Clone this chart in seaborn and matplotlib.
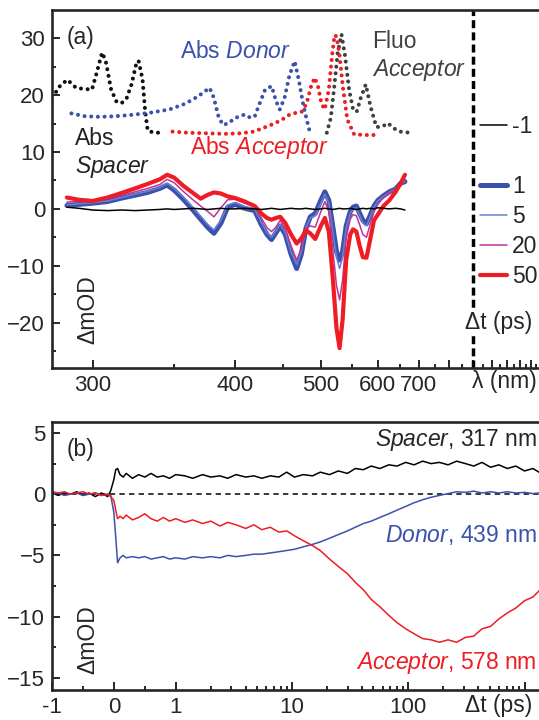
import numpy as np
import pandas as pd
import seaborn as sns
import matplotlib
matplotlib.use("Agg")
import matplotlib.pyplot as plt
from matplotlib.lines import Line2D
from matplotlib.ticker import FixedLocator, FixedFormatter, NullFormatter

sns.set_style("ticks")
plt.rcParams['font.family'] = ['Liberation Sans', 'DejaVu Sans']
plt.rcParams['mathtext.fontset'] = 'custom'
plt.rcParams['mathtext.rm'] = 'Liberation Sans'
plt.rcParams['mathtext.it'] = 'Liberation Sans:italic'

# ---- panel (a): steady state spectra (offset, arbitrary units)
spacer_wl = [279.7, 281, 284, 287.3, 291.5, 295.7, 299.6, 301.8, 305, 307, 310, 313, 316, 319, 322, 324.5, 326.2, 328.7, 330.4, 332, 335, 339, 343]
spacer_abs = [19.8, 20.1, 21.8, 22.7, 21.3, 21.1, 21.0, 23.6, 27.5, 26.0, 21.0, 18.9, 18.6, 19.5, 22.0, 25.2, 26.1, 22.8, 17.1, 13.8, 13.5, 13.4, 13.4]

donor_wl = [289.2, 296, 303.6, 312, 320.7, 333, 346.7, 358, 368, 377.3, 381, 384.5, 388.5, 393, 400, 408.9, 414, 418.9, 424, 430, 437.2, 442, 446.4, 452, 458, 464.5, 470, 476, 484.2]
donor_abs = [16.8, 16.3, 16.2, 16.3, 16.5, 16.9, 17.5, 18.5, 19.8, 21.3, 19.5, 16.5, 14.8, 15.0, 16.0, 16.6, 16.1, 16.2, 18.5, 21.0, 21.6, 19.0, 17.5, 19.5, 23.5, 26.0, 22.5, 18.0, 13.6]

acc_wl = [348.8, 360, 375, 390, 405, 418, 427.3, 440, 450, 458.3, 466, 473.5, 480, 486, 491.2, 496, 501, 505.8, 512, 517, 521, 524.3, 529, 534.2, 542, 554, 575, 600]
acc_abs = [13.6, 13.4, 13.3, 13.2, 13.3, 13.6, 14.2, 15.0, 15.8, 16.6, 16.9, 17.1, 18.5, 21.5, 23.1, 21.5, 18.5, 17.5, 21.0, 27.0, 30.6, 30.3, 27.0, 21.6, 15.7, 13.1, 13.0, 13.0]

fluo_wl = [508.9, 515, 520, 526, 532.2, 538, 545, 552, 558.6, 566, 575.6, 585, 597, 610, 621.9, 635, 650, 676]
fluo_em = [13.4, 16.0, 21.0, 27.5, 30.7, 27.0, 21.0, 17.5, 17.1, 19.5, 21.9, 18.0, 14.4, 14.5, 15.1, 14.2, 13.6, 13.4]

# ---- panel (a): transient spectra, mOD
ta_wl = [287, 293, 300, 308, 316, 324, 332, 340, 345, 350,
         357, 364, 370, 376, 381, 387, 393, 400, 409, 419,
         426, 432, 437, 442, 447, 453, 460, 467, 473, 479,
         485, 492, 500, 506, 512, 518, 524, 529, 534, 540,
         547, 552, 558, 564, 570, 577, 584, 592, 600, 612,
         625, 640, 652, 663]
ta_m1 = [0.3, 0.1, -0.2, -0.3, -0.2, -0.3, -0.2, -0.1, 0.0, -0.1,
         0.0, 0.1, 0.0, -0.1, 0.0, 0.1, 0.0, 0.0, 0.1, 0.0,
         -0.1, 0.0, 0.1, 0.0, -0.1, 0.0, 0.1, 0.0, 0.0, 0.1,
         0.0, -0.1, 0.0, 0.1, 0.0, -0.1, 0.0, 0.1, 0.0, 0.0,
         0.1, 0.0, -0.1, 0.0, 0.1, 0.0, 0.1, 0.0, 0.2, 0.1,
         0.0, 0.1, 0.0, -0.2]
ta_1 = [0.6, 0.8, 1.0, 1.3, 1.9, 2.4, 2.9, 3.6, 4.2, 3.3,
        1.6, -0.2, -1.8, -3.3, -4.3, -2.5, 0.3, 0.8, 0.1, -0.3,
        -2.8, -4.5, -5.4, -4.2, -3.0, -4.5, -8.0, -10.5, -8.0, -3.5,
        -1.4, -0.8, 1.5, 3.0, 1.5, -3.0, -7.5, -9.0, -7.5, -3.0,
        -0.5, 0.3, 0.5, -0.8, -2.0, -2.6, -1.2, 0.5, 1.5, 2.3,
        3.0, 3.5, 4.5, 4.8]
ta_5 = [0.7, 0.9, 1.1, 1.4, 2.0, 2.6, 3.1, 3.8, 4.5, 3.6,
        2.0, 0.2, -1.3, -2.8, -3.7, -2.0, 0.7, 1.1, 0.4, 0.0,
        -2.4, -4.2, -5.0, -3.9, -2.7, -4.2, -7.6, -9.8, -7.6, -3.3,
        -1.6, -1.2, 1.0, 2.6, 1.0, -3.8, -8.5, -10.5, -8.5, -3.4,
        -0.8, 0.0, 0.2, -1.2, -2.5, -3.0, -1.5, 0.3, 1.4, 2.2,
        2.9, 3.5, 4.5, 4.8]
ta_20 = [1.2, 1.3, 1.4, 1.8, 2.4, 3.0, 3.6, 4.3, 5.2, 4.6,
         3.0, 1.6, 0.5, -0.5, -1.4, 0.2, 1.6, 1.7, 1.0, 0.5,
         -1.6, -3.3, -4.0, -3.2, -2.0, -3.5, -6.5, -9.0, -7.0, -3.5,
         -3.0, -3.2, -0.5, 1.3, -0.5, -7.0, -13.5, -16.0, -12.5, -5.0,
         -1.8, -1.0, -1.2, -2.8, -4.5, -5.0, -2.8, -0.5, 0.8, 2.0,
         2.8, 3.4, 4.5, 5.2]
ta_50 = [2.0, 1.6, 1.4, 2.0, 2.8, 3.6, 4.4, 5.2, 6.0, 5.5,
         4.0, 2.8, 1.8, 2.5, 2.9, 2.7, 2.2, 1.9, 1.3, 0.5,
         -0.8, -1.6, -1.9, -1.6, -1.4, -2.5, -4.5, -6.1, -5.2, -3.8,
         -4.3, -5.3, -3.0, -1.6, -4.0, -12.0, -21.0, -24.5, -19.5, -9.0,
         -4.5, -3.6, -4.0, -6.5, -8.5, -8.6, -5.5, -2.0, -1.0, 0.5,
         1.5, 3.0, 4.5, 6.0]

# ---- panel (b): kinetics
t_ps = [-1.0, -0.9, -0.8, -0.7, -0.6, -0.5, -0.4, -0.3, -0.2, -0.1, -0.05,
        0.0, 0.03, 0.06, 0.1, 0.15, 0.2, 0.3, 0.4, 0.5,
        0.6, 0.7, 0.8, 0.9, 1.0,
        1.2, 1.4, 1.7, 2, 2.4,
        2.8, 3.3, 4, 4.7, 5.5,
        6.5, 7.7, 9, 10.5, 12.5,
        15, 17.5, 21, 25, 30,
        35, 41, 48, 57, 68,
        80, 95, 112, 133, 157,
        185, 220, 260, 310, 365,
        430, 510, 600, 710, 840,
        1000, 1180, 1330]
kin_spacer = [0.1, -0.1, 0.1, 0.0, 0.2, -0.1, 0.1, -0.2, 0.1, -0.2, 0.3,
              1.2, 2.0, 2.1, 1.6, 1.4, 1.7, 1.3, 1.6, 1.4,
              1.7, 1.4, 1.5, 1.3, 1.6,
              1.5, 1.3, 1.6, 1.4, 1.5,
              1.3, 1.6, 1.4, 1.5, 1.3,
              1.5, 1.4, 1.8, 1.4, 1.6,
              1.5, 1.8, 1.6, 1.9, 1.7,
              2.1, 2.0, 2.3, 2.1, 2.4,
              2.3, 2.6, 2.4, 2.7, 2.5,
              2.6, 2.4, 2.7, 2.5, 2.3,
              2.6, 2.2, 2.4, 2.1, 2.3,
              1.9, 2.1, 1.8]
kin_donor = [0.0, 0.1, -0.1, 0.0, 0.1, -0.1, 0.0, 0.1, -0.1, 0.0, -0.1,
             -1.5, -3.5, -5.6, -5.2, -5.0, -5.2, -5.1, -5.2, -5.1,
             -5.3, -5.2, -5.1, -5.3, -5.2,
             -5.3, -5.1, -5.2, -5.1, -5.2,
             -5.0, -5.1, -5.0, -4.9, -4.9,
             -4.8, -4.7, -4.6, -4.5, -4.3,
             -4.1, -3.9, -3.6, -3.3, -3.0,
             -2.7, -2.4, -2.2, -1.9, -1.6,
             -1.3, -1.0, -0.7, -0.45, -0.25,
             -0.1, 0.05, 0.2, 0.15, 0.25,
             0.1, 0.2, 0.1, 0.2, 0.1,
             0.15, 0.05, 0.1]
kin_acceptor = [0.2, 0.1, 0.2, 0.0, 0.1, 0.2, 0.0, 0.1, -0.1, 0.0, -0.2,
                -0.5, -1.3, -2.0, -1.8, -2.0, -1.7, -2.1, -1.9, -1.6,
                -2.0, -2.2, -1.9, -2.2, -2.0,
                -2.3, -2.1, -2.4, -2.2, -2.6,
                -2.3, -2.5, -2.8, -2.5, -2.9,
                -2.7, -3.1, -3.0, -3.4, -3.8,
                -4.2, -4.6, -5.3, -5.9, -6.5,
                -7.2, -7.8, -8.6, -9.2, -9.9,
                -10.5, -11.0, -11.4, -11.8, -11.9,
                -12.1, -11.9, -12.1, -11.7, -11.6,
                -11.0, -10.8, -10.2, -9.7, -9.3,
                -8.7, -8.4, -7.9]

BLUE = '#3b52ac'
BLUE_THIN = '#6a80d0'
MAGENTA = '#c0349a'
RED = '#ee1c24'
GREY = '#404040'
FS = 16.5


def inv_wl(w):
    w = np.asarray(w, dtype=float)
    with np.errstate(divide='ignore', invalid='ignore'):
        return -1.0 / w


A = 0.532


def linlog(t):
    t = np.asarray(t, dtype=float)
    with np.errstate(divide='ignore', invalid='ignore'):
        return np.where(t <= 1, A * t, A + np.log10(np.maximum(t, 1)))


def linlog_inv(y):
    y = np.asarray(y, dtype=float)
    with np.errstate(over='ignore', invalid='ignore'):
        return np.where(y <= A, y / A, 10 ** np.minimum(y - A, 12))


fig = plt.figure(figsize=(5.39, 7.2), dpi=100)
ax1 = fig.add_axes([52 / 539, 1 - 368 / 720, 487 / 539, 358 / 720])
ax2 = fig.add_axes([52 / 539, 1 - 690 / 720, 487 / 539, 268 / 720])

dots = dict(linestyle=(0, (0.01, 1.65)), dash_capstyle='round', lw=2.9)

# steady state
sns.lineplot(x=spacer_wl, y=spacer_abs, ax=ax1, color='#111111', estimator=None, sort=False, **dots)
sns.lineplot(x=donor_wl, y=donor_abs, ax=ax1, color=BLUE, estimator=None, sort=False, **dots)
sns.lineplot(x=fluo_wl, y=fluo_em, ax=ax1, color=GREY, estimator=None, sort=False, **dots)
sns.lineplot(x=acc_wl, y=acc_abs, ax=ax1, color=RED, estimator=None, sort=False, **dots)

# transient spectra
sns.lineplot(x=ta_wl, y=ta_1, ax=ax1, color=BLUE, lw=3.6, estimator=None, sort=False)
sns.lineplot(x=ta_wl, y=ta_5, ax=ax1, color=BLUE_THIN, lw=1.1, estimator=None, sort=False)
sns.lineplot(x=ta_wl, y=ta_20, ax=ax1, color=MAGENTA, lw=1.1, estimator=None, sort=False)
sns.lineplot(x=ta_wl, y=ta_50, ax=ax1, color=RED, lw=3.0, estimator=None, sort=False)
sns.lineplot(x=ta_wl, y=ta_m1, ax=ax1, color='black', lw=1.1, estimator=None, sort=False)

ax1.axvline(900, color='black', lw=2.5, linestyle=(0, (2.3, 1.2)))

ax1.set_xscale('function', functions=(inv_wl, inv_wl))
ax1.set_xlim(280, 1380)
ax1.set_ylim(-28, 35)
maj_a = [300, 400, 500, 600, 700, 800, 900, 1000, 1100, 1200, 1300]
ax1.xaxis.set_major_locator(FixedLocator(maj_a))
ax1.xaxis.set_major_formatter(FixedFormatter(['300', '400', '500', '600', '700'] + [''] * 6))
ax1.xaxis.set_minor_locator(FixedLocator([350, 450, 550, 650, 750, 850, 950, 1050, 1150, 1250, 1350]))
ax1.xaxis.set_minor_formatter(NullFormatter())
ax1.yaxis.set_major_locator(FixedLocator([-20, -10, 0, 10, 20, 30]))
ax1.yaxis.set_minor_locator(FixedLocator([-25, -15, -5, 5, 15, 25]))

# legend for delays
handles = [Line2D([], [], color='black', lw=1.1),
           Line2D([], [], color='none'),
           Line2D([], [], color=BLUE, lw=3.6),
           Line2D([], [], color=BLUE_THIN, lw=1.1),
           Line2D([], [], color=MAGENTA, lw=1.1),
           Line2D([], [], color=RED, lw=3.0)]
ax1.legend(handles, ['-1', '', '1', '5', '20', '50'], loc='upper left',
           bbox_to_anchor=(0.879, 0.706), frameon=False, fontsize=FS,
           handlelength=1.18, handletextpad=0.22, labelspacing=0.3,
           borderpad=0, borderaxespad=0)

t1 = ax1.transAxes
ax1.text(0.031, 0.922, '(a)', transform=t1, fontsize=FS, va='center')
ax1.text(0.263, 0.883, r'Abs $\mathit{Donor}$', transform=t1, fontsize=FS, va='center', color=BLUE)
ax1.text(0.047, 0.642, 'Abs', transform=t1, fontsize=FS, va='center', color='#222222')
ax1.text(0.047, 0.561, r'$\mathit{Spacer}$', transform=t1, fontsize=FS, va='center', color='#222222')
ax1.text(0.283, 0.615, r'Abs $\mathit{Acceptor}$', transform=t1, fontsize=FS, va='center', color=RED)
ax1.text(0.657, 0.911, 'Fluo', transform=t1, fontsize=FS, va='center', color=GREY)
ax1.text(0.657, 0.832, r'$\mathit{Acceptor}$', transform=t1, fontsize=FS, va='center', color=GREY)
ax1.text(0.074, 0.162, 'ΔmOD', transform=t1, fontsize=FS, va='center', ha='center', rotation=90)
ax1.text(0.848, 0.128, 'Δt (ps)', transform=t1, fontsize=FS, va='center', zorder=5,
         bbox=dict(facecolor='white', edgecolor='none', pad=0.5))
ax1.text(0.862, -0.039, 'λ (nm)', transform=t1, fontsize=FS, va='center')

# ---- panel (b)
ax2.axhline(0, color='black', lw=1.1, linestyle=(0, (3.5, 2.8)))
sns.lineplot(x=t_ps, y=kin_spacer, ax=ax2, color='black', lw=1.1, estimator=None, sort=False)
sns.lineplot(x=t_ps, y=kin_donor, ax=ax2, color=BLUE, lw=1.1, estimator=None, sort=False)
sns.lineplot(x=t_ps, y=kin_acceptor, ax=ax2, color=RED, lw=1.1, estimator=None, sort=False)

ax2.set_xscale('function', functions=(linlog, linlog_inv))
ax2.set_xlim(-1, 1330)
ax2.set_ylim(-16, 5.9)
ax2.xaxis.set_major_locator(FixedLocator([-1, 0, 1, 10, 100, 1000]))
ax2.xaxis.set_major_formatter(FixedFormatter(['-1', '0', '1', '10', '100', '']))
minor_b = [-0.5, 0.5] + [m * d for d in (1, 10, 100) for m in range(2, 10)]
ax2.xaxis.set_minor_locator(FixedLocator(minor_b))
ax2.xaxis.set_minor_formatter(NullFormatter())
ax2.yaxis.set_major_locator(FixedLocator([-15, -10, -5, 0, 5]))
ax2.yaxis.set_minor_locator(FixedLocator([-12.5, -7.5, -2.5, 2.5]))

t2 = ax2.transAxes
ax2.text(0.031, 0.896, '(b)', transform=t2, fontsize=FS, va='center')
ax2.text(0.996, 0.933, r'$\mathit{Spacer}$, 317 nm', transform=t2, fontsize=FS, va='center', ha='right')
ax2.text(0.996, 0.578, r'$\mathit{Donor}$, 439 nm', transform=t2, fontsize=FS, va='center', ha='right', color=BLUE)
ax2.text(0.996, 0.101, r'$\mathit{Acceptor}$, 578 nm', transform=t2, fontsize=FS, va='center', ha='right', color=RED)
ax2.text(0.074, 0.187, 'ΔmOD', transform=t2, fontsize=FS, va='center', ha='center', rotation=90)
ax2.text(0.848, -0.056, 'Δt (ps)', transform=t2, fontsize=FS, va='center')

for ax in (ax1, ax2):
    ax.set_xlabel('')
    ax.set_ylabel('')
    ax.spines['right'].set_visible(False)
    for s in ('left', 'bottom', 'top'):
        ax.spines[s].set_linewidth(1.9)
    ax.tick_params(which='both', direction='in', top=False, right=False, labelsize=16, width=1.4, pad=5)
    ax.tick_params(which='major', length=5.5)
    ax.tick_params(which='minor', length=3)

fig.savefig('out.png', dpi=100)
